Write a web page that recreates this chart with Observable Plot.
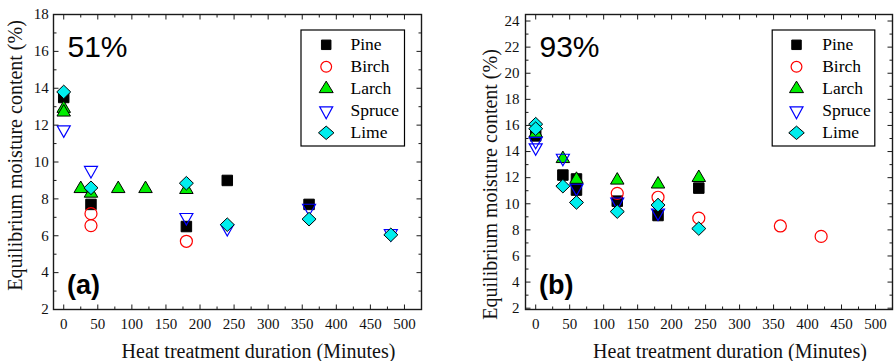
<!DOCTYPE html>
<html><head><meta charset="utf-8">
<script src="https://cdn.jsdelivr.net/npm/d3@7"></script>
<script src="https://cdn.jsdelivr.net/npm/@observablehq/plot@0.6"></script>
<style>
body{margin:0;background:#fff}
#wrap{display:flex;width:894px;height:361px;overflow:hidden}
</style>
</head><body><div id="wrap"></div>
<script>
// ---------- data ----------
const species = ["Pine", "Birch", "Larch", "Spruce", "Lime"];

// x tick labels (minutes) and y tick labels (%)
const xMajor = [0, 50, 100, 150, 200, 250, 300, 350, 400, 450, 500];
const xMinor = [25, 75, 125, 175, 225, 275, 325, 375, 425, 475];
const yMajorA = [2, 4, 6, 8, 10, 12, 14, 16, 18];
const yMinorA = [3, 5, 7, 9, 11, 13, 15, 17];
const yMajorB = [2, 4, 6, 8, 10, 12, 14, 16, 18, 20, 22, 24];
const yMinorB = [3, 5, 7, 9, 11, 13, 15, 17, 19, 21, 23];

// (a) 51% RH
const aPineX = [0, 40, 180, 240, 360];
const aPineY = [13.5, 7.7, 6.5, 9.0, 7.7];
const aBirchX = [40, 40, 180];
const aBirchY = [7.2, 6.55, 5.7];
const aLarchX = [0, 0, 25, 40, 80, 120, 180];
const aLarchY = [12.9, 12.7, 8.55, 8.3, 8.55, 8.55, 8.5];
const aSpruceX = [0, 40, 180, 240, 360, 480];
const aSpruceY = [11.75, 9.55, 7.0, 6.4, 7.5, 6.12];
const aLimeX = [0, 40, 180, 240, 360, 480];
const aLimeY = [13.8, 8.6, 8.85, 6.6, 6.9, 6.05];

// (b) 93% RH
const bPineX = [0, 40, 60, 60, 120, 180, 240];
const bPineY = [15.2, 12.2, 11.9, 11.05, 10.2, 9.1, 11.2];
const bBirchX = [120, 180, 240, 360, 420];
const bBirchY = [10.8, 10.5, 8.9, 8.3, 7.5];
const bLarchX = [0, 40, 60, 120, 180, 240];
const bLarchY = [15.4, 13.45, 11.86, 11.8, 11.5, 12.0];
const bSpruceX = [0, 0, 40, 60, 120, 180];
const bSpruceY = [14.8, 14.3, 13.5, 11.2, 10.15, 9.3];
const bLimeX = [0, 0, 40, 60, 120, 180, 240];
const bLimeY = [16.1, 15.75, 11.35, 10.1, 9.4, 9.9, 8.1];

// ---------- symbols & styles ----------
const square = s => ({draw(c) { c.rect(-s / 2, -s / 2, s, s); }});
const circle = r => ({draw(c) { c.moveTo(r, 0); c.arc(0, 0, r, 0, 2 * Math.PI); }});
const triUp = (w, h) => ({draw(c) { c.moveTo(0, -h * 2 / 3); c.lineTo(w / 2, h / 3); c.lineTo(-w / 2, h / 3); c.closePath(); }});
const triDown = (w, h) => ({draw(c) { c.moveTo(0, h * 2 / 3); c.lineTo(w / 2, -h / 3); c.lineTo(-w / 2, -h / 3); c.closePath(); }});
const diamond = (w, h) => ({draw(c) { c.moveTo(0, -h / 2); c.lineTo(w / 2, 0); c.lineTo(0, h / 2); c.lineTo(-w / 2, 0); c.closePath(); }});
const seg = (dx, dy) => ({draw(c) { c.moveTo(0, 0); c.lineTo(dx, dy); }});

const styles = {
  Pine:   {sym: square(10.5), leg: square(9.5), fill: "#000000", stroke: "#000000", sw: 1},
  Birch:  {sym: circle(6), leg: circle(5.4), fill: "none", stroke: "#ff0000", sw: 1.2},
  Larch:  {sym: triUp(13.5, 11.5), leg: triUp(14, 11.5), fill: "#00ee00", stroke: "#000000", sw: 1},
  Spruce: {sym: triDown(13, 11.5), leg: triDown(13, 12), fill: "none", stroke: "#0000ff", sw: 1.2},
  Lime:   {sym: diamond(14, 13.6), leg: diamond(15.5, 13.4), fill: "#00eeee", stroke: "#000000", sw: 1}
};

const serif = "Liberation Serif";
const sans = "Liberation Sans";

function series(xs, ys) { return xs.map((x, i) => ({x, y: ys[i]})); }

function panel(cfg) {
  const {seriesData, yDomain, yMajor, yMinor, mLeft, mRight, rh, tag, ytitleDx, ytitleDy, ylabDx, legInsetLeft, legInsetRight, legSymDx, legTextDx} = cfg;
  const marks = [];
  // data
  species.forEach((s, i) => {
    const st = styles[s];
    marks.push(Plot.dot(seriesData[i], {x: "x", y: "y", symbol: st.sym, r: 5, fill: st.fill, stroke: st.stroke, strokeWidth: st.sw}));
  });
  // frame
  marks.push(Plot.frame({stroke: "#1a1a1a", strokeWidth: 1.4}));
  // inward ticks on all four sides
  const tk = {fill: "none", stroke: "#1a1a1a", strokeWidth: 1, r: 3};
  marks.push(Plot.dot(xMajor, {x: d => d, frameAnchor: "bottom", symbol: seg(0, -5), ...tk}));
  marks.push(Plot.dot(xMinor, {x: d => d, frameAnchor: "bottom", symbol: seg(0, -3), ...tk}));
  marks.push(Plot.dot(xMajor, {x: d => d, frameAnchor: "top", symbol: seg(0, 5), ...tk}));
  marks.push(Plot.dot(xMinor, {x: d => d, frameAnchor: "top", symbol: seg(0, 3), ...tk}));
  marks.push(Plot.dot(yMajor, {y: d => d, frameAnchor: "left", symbol: seg(5, 0), ...tk}));
  marks.push(Plot.dot(yMinor, {y: d => d, frameAnchor: "left", symbol: seg(3, 0), ...tk}));
  marks.push(Plot.dot(yMajor, {y: d => d, frameAnchor: "right", symbol: seg(-5, 0), ...tk}));
  marks.push(Plot.dot(yMinor, {y: d => d, frameAnchor: "right", symbol: seg(-3, 0), ...tk}));
  // tick labels (through the x / y scales)
  marks.push(Plot.text(xMajor, {x: d => d, frameAnchor: "bottom", dy: 14.5, text: d => String(d), textAnchor: "middle", lineAnchor: "middle", fontSize: 15, fontFamily: serif, fill: "#111"}));
  marks.push(Plot.text(yMajor, {y: d => d, frameAnchor: "left", dx: ylabDx, text: d => String(d), textAnchor: "end", lineAnchor: "middle", fontSize: 15, fontFamily: serif, fill: "#111"}));
  // axis titles
  marks.push(Plot.text(["Heat treatment duration (Minutes)"], {text: d => d, frameAnchor: "bottom", dx: 21, dy: 42.3, textAnchor: "middle", lineAnchor: "middle", fontSize: 20, fontFamily: serif, fill: "#111"}));
  marks.push(Plot.text(["Equilibrium moisture content (%)"], {text: d => d, frameAnchor: "left", dx: ytitleDx, dy: ytitleDy, rotate: -90, textAnchor: "middle", lineAnchor: "middle", fontSize: 20, fontFamily: serif, fill: "#111"}));
  // RH annotation and panel tag
  marks.push(Plot.text([rh], {text: d => d, frameAnchor: "top-left", dx: 14, dy: 32.6, textAnchor: "start", lineAnchor: "middle", fontSize: 30, fontFamily: sans, fill: "#000"}));
  marks.push(Plot.text([tag], {text: d => d, frameAnchor: "bottom-left", dx: 13.5, dy: -24.5, textAnchor: "start", lineAnchor: "middle", fontSize: 27, fontWeight: "bold", fontFamily: sans, fill: "#000"}));
  // legend
  marks.push(Plot.frame({insetLeft: legInsetLeft, insetRight: legInsetRight, insetTop: 15.5, insetBottom: 163.5, stroke: "#000", strokeWidth: 1.2}));
  species.forEach((s, i) => {
    const st = styles[s];
    marks.push(Plot.dot([s], {frameAnchor: "top-left", dx: legSymDx, dy: 30.3 + 22 * i, symbol: st.leg, r: 5, fill: st.fill, stroke: st.stroke, strokeWidth: st.sw}));
    marks.push(Plot.text([s], {text: d => d, frameAnchor: "top-left", dx: legTextDx, dy: 30.3 + 22 * i, textAnchor: "start", lineAnchor: "middle", fontSize: 17.5, fontFamily: serif, fill: "#000"}));
  });
  return Plot.plot({
    width: 447, height: 361,
    marginLeft: mLeft, marginRight: mRight, marginTop: 14, marginBottom: 52,
    x: {domain: [-15, 525], axis: null},
    y: {domain: yDomain, axis: null},
    style: {fontFamily: "Liberation Serif", background: "white", overflow: "visible"},
    marks
  });
}

const wrap = document.getElementById("wrap");
wrap.append(panel({
  seriesData: [series(aPineX, aPineY), series(aBirchX, aBirchY), series(aLarchX, aLarchY), series(aSpruceX, aSpruceY), series(aLimeX, aLimeY)],
  yDomain: [2, 18], yMajor: yMajorA, yMinor: yMinorA,
  mLeft: 53, mRight: 26, rh: "51%", tag: "(a)",
  ytitleDx: -37.7, ytitleDy: -6.6, ylabDx: -4.7,
  legInsetLeft: 247.5, legInsetRight: 17, legSymDx: 272.7, legTextDx: 297
}));
wrap.append(panel({
  seriesData: [series(bPineX, bPineY), series(bBirchX, bBirchY), series(bLarchX, bLarchY), series(bSpruceX, bSpruceY), series(bLimeX, bLimeY)],
  yDomain: [1.9, 24.5], yMajor: yMajorB, yMinor: yMinorB,
  mLeft: 78, mRight: 2, rh: "93%", tag: "(b)",
  ytitleDx: -35.4, ytitleDy: 22.4, ylabDx: -6,
  legInsetLeft: 246.7, legInsetRight: 17.7, legSymDx: 271, legTextDx: 296.7
}));
</script>
</body></html>
